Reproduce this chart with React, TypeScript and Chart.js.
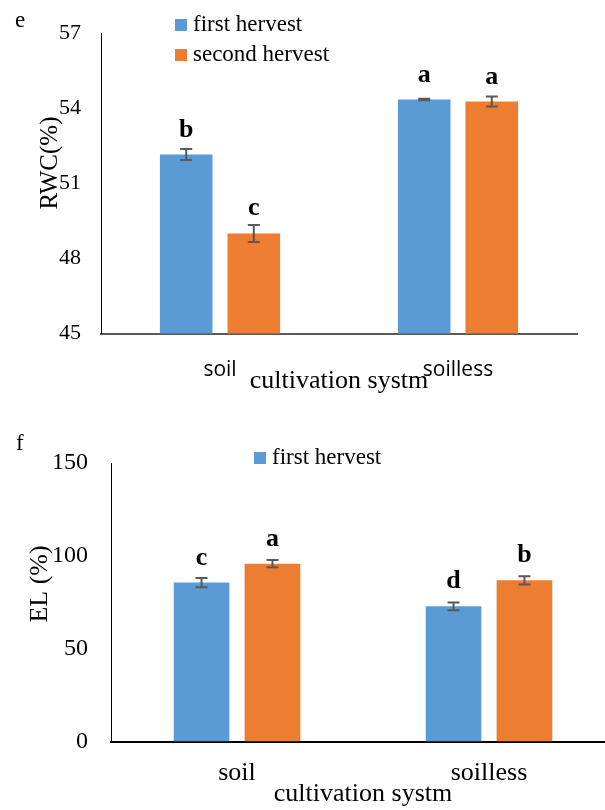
import React, { useEffect, useRef } from "react";
import { Chart, registerables } from "chart.js";

Chart.register(...registerables);

// ---------- data ----------
const categories = ["soil", "soilless"];
const seriesNames = ["first hervest", "second hervest"];

const rwcFirst = [52.15, 54.35];
const rwcFirstErr = [0.22, 0.03];
const rwcSecond = [49.0, 54.27];
const rwcSecondErr = [0.34, 0.2];
const rwcLettersFirst = ["b", "a"];
const rwcLettersSecond = ["c", "a"];
const rwcTicks = [45, 48, 51, 54, 57];

const elFirst = [85.6, 72.8];
const elFirstErr = [2.5, 2.1];
const elSecond = [95.8, 86.8];
const elSecondErr = [2.0, 2.2];
const elLettersFirst = ["c", "d"];
const elLettersSecond = ["a", "b"];
const elTicks = [0, 50, 100, 150];

const BLUE = "#5B9BD5";
const ORANGE = "#ED7D31";
const SERIF = "'Liberation Serif', 'Times New Roman', serif";

type PanelCfg = {
  id: string;
  panel: string;
  panelPos: [number, number];
  yTitle: string;
  yTitlePos: [number, number];
  yTitleSize: number;
  errors: number[][];
  letters: string[][];
  letterGap: number;
  legend: { label: string; color: string; x: number; y: number }[];
};

function makePlugin(cfg: PanelCfg) {
  return {
    id: cfg.id,
    afterDatasetsDraw(chart: any) {
      const ctx = chart.ctx;
      const yScale = chart.scales.y;
      ctx.save();
      // error bars + letters
      chart.data.datasets.forEach((ds: any, di: number) => {
        const meta = chart.getDatasetMeta(di);
        meta.data.forEach((el: any, i: number) => {
          const v = ds.data[i];
          const e = cfg.errors[di][i];
          const x = el.x;
          const yt = yScale.getPixelForValue(v + e);
          const yb = yScale.getPixelForValue(v - e);
          const yv = yScale.getPixelForValue(v);
          ctx.strokeStyle = "#595959";
          ctx.lineWidth = 2;
          ctx.beginPath();
          ctx.moveTo(x, yt);
          ctx.lineTo(x, yb);
          ctx.moveTo(x - 6, yt);
          ctx.lineTo(x + 6, yt);
          ctx.moveTo(x - 6, yb);
          ctx.lineTo(x + 6, yb);
          ctx.stroke();
          ctx.fillStyle = "#000";
          ctx.font = `bold 26px ${SERIF}`;
          ctx.textAlign = "center";
          ctx.textBaseline = "alphabetic";
          ctx.fillText(cfg.letters[di][i], x, yv - cfg.letterGap);
        });
      });
      // panel letter
      ctx.font = `23px ${SERIF}`;
      ctx.textAlign = "left";
      ctx.textBaseline = "alphabetic";
      ctx.fillStyle = "#000";
      ctx.fillText(cfg.panel, cfg.panelPos[0], cfg.panelPos[1]);
      // y title
      ctx.save();
      ctx.translate(cfg.yTitlePos[0], cfg.yTitlePos[1]);
      ctx.rotate(-Math.PI / 2);
      ctx.font = `${cfg.yTitleSize}px ${SERIF}`;
      ctx.textAlign = "center";
      ctx.textBaseline = "middle";
      ctx.fillText(cfg.yTitle, 0, 0);
      ctx.restore();
      // legend
      cfg.legend.forEach((l) => {
        ctx.fillStyle = l.color;
        ctx.fillRect(l.x, l.y - 6, 12, 12);
        ctx.fillStyle = "#000";
        ctx.font = `23px ${SERIF}`;
        ctx.textAlign = "left";
        ctx.textBaseline = "middle";
        ctx.fillText(l.label, l.x + 18, l.y);
      });
      ctx.restore();
    },
  };
}

function BarPanel(props: {
  width: number;
  height: number;
  top: number;
  first: number[];
  second: number[];
  min: number;
  max: number;
  step: number;
  ticks: number[];
  padding: { left: number; top: number; right: number; bottom: number };
  yWidth: number;
  xHeight: number;
  yTickSize: number;
  yTickPad: number;
  xTickFont: { family: string; size: number };
  xTickPad: number;
  xTitlePad: number;
  xBorderColor: string;
  catPct: number;
  barPct: number;
  plugin: any;
}) {
  const ref = useRef<HTMLCanvasElement | null>(null);
  useEffect(() => {
    if (!ref.current) return;
    const chart = new Chart(ref.current, {
      type: "bar",
      data: {
        labels: categories,
        datasets: [
          {
            label: seriesNames[0],
            data: props.first,
            backgroundColor: BLUE,
            categoryPercentage: props.catPct,
            barPercentage: props.barPct,
          },
          {
            label: seriesNames[1],
            data: props.second,
            backgroundColor: ORANGE,
            categoryPercentage: props.catPct,
            barPercentage: props.barPct,
          },
        ],
      },
      options: {
        animation: false,
        responsive: false,
        maintainAspectRatio: false,
        devicePixelRatio: 1,
        layout: { padding: props.padding },
        plugins: {
          legend: { display: false },
          tooltip: { enabled: false },
        },
        scales: {
          x: {
            grid: { display: false, drawTicks: false },
            border: { display: true, color: props.xBorderColor, width: 2 },
            ticks: {
              color: "#000",
              font: props.xTickFont,
              padding: props.xTickPad,
              maxRotation: 0,
            },
            title: {
              display: true,
              text: "cultivation systm",
              color: "#000",
              font: { family: SERIF, size: 26 },
              padding: { top: 0, bottom: props.xTitlePad },
            },
            afterFit: (s: any) => {
              s.height = props.xHeight;
            },
          },
          y: {
            min: props.min,
            max: props.max,
            grid: { display: false, drawTicks: false },
            border: { display: true, color: "#000", width: 1 },
            afterBuildTicks: (s: any) => {
              s.ticks = props.ticks.map((v) => ({ value: v }));
            },
            ticks: {
              color: "#000",
              font: { family: SERIF, size: props.yTickSize },
              padding: props.yTickPad,
              stepSize: props.step,
            },
            afterFit: (s: any) => {
              s.width = props.yWidth;
            },
          },
        },
      },
      plugins: [props.plugin],
    } as any);
    return () => chart.destroy();
  }, []);
  return (
    <canvas
      ref={ref}
      width={props.width}
      height={props.height}
      style={{
        position: "absolute",
        left: 0,
        top: props.top,
        width: props.width,
        height: props.height,
        display: "block",
      }}
    />
  );
}

const rwcPlugin = makePlugin({
  id: "rwcDeco",
  panel: "e",
  panelPos: [15, 27],
  yTitle: "RWC(%)",
  yTitlePos: [50, 163],
  yTitleSize: 25,
  errors: [rwcFirstErr, rwcSecondErr],
  letters: [rwcLettersFirst, rwcLettersSecond],
  letterGap: 18,
  legend: [
    { label: seriesNames[0], color: BLUE, x: 175, y: 25 },
    { label: seriesNames[1], color: ORANGE, x: 175, y: 55 },
  ],
});

const elPlugin = makePlugin({
  id: "elDeco",
  panel: "f",
  panelPos: [16, 50],
  yTitle: "EL (%)",
  yTitlePos: [40, 184],
  yTitleSize: 26,
  errors: [elFirstErr, elSecondErr],
  letters: [elLettersFirst, elLettersSecond],
  letterGap: 18,
  legend: [{ label: seriesNames[0], color: BLUE, x: 254, y: 58 }],
});

export default function App() {
  return (
    <div
      style={{
        position: "fixed",
        left: 0,
        top: 0,
        width: 605,
        height: 810,
        overflow: "hidden",
        background: "#fff",
      }}
    >
      <BarPanel
        width={605}
        height={400}
        top={0}
        first={rwcFirst}
        second={rwcSecond}
        min={45}
        max={57}
        step={3}
        ticks={rwcTicks}
        padding={{ left: 0, top: 30, right: 28, bottom: 0 }}
        yWidth={101}
        xHeight={66.5}
        yTickSize={22}
        yTickPad={20}
        xTickFont={{ family: "'Open Sans', sans-serif", size: 21 }}
        xTickPad={24}
        xTitlePad={3}
        xBorderColor="#595959"
        catPct={0.568}
        barPct={0.778}
        plugin={rwcPlugin}
      />
      <BarPanel
        width={620}
        height={410}
        top={400}
        first={elFirst}
        second={elSecond}
        min={0}
        max={150}
        step={50}
        ticks={elTicks}
        padding={{ left: 0, top: 63, right: 5, bottom: 0 }}
        yWidth={111}
        xHeight={68.5}
        yTickSize={24}
        yTickPad={23}
        xTickFont={{ family: SERIF, size: 26 }}
        xTickPad={16}
        xTitlePad={0}
        xBorderColor="#000"
        catPct={0.563}
        barPct={0.785}
        plugin={elPlugin}
      />
    </div>
  );
}
